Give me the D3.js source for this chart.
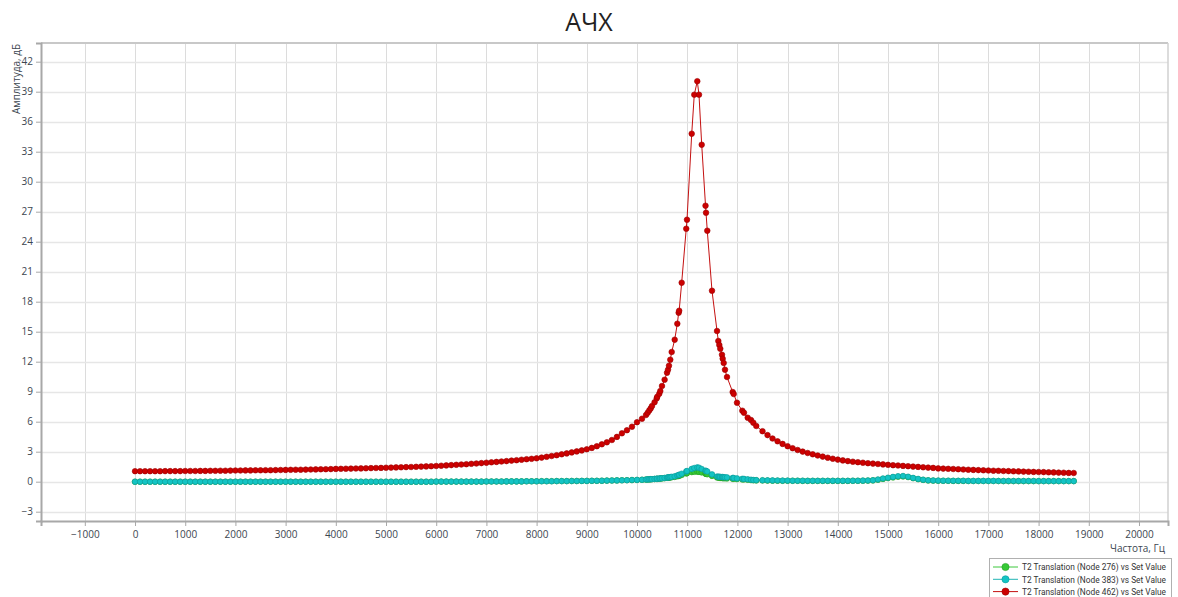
<!DOCTYPE html>
<html><head><meta charset="utf-8">
<script src="https://cdn.jsdelivr.net/npm/d3@7"></script>
<style>
html,body{margin:0;padding:0;background:#fff;}
svg text{font-family:"Open Sans","Noto Sans",sans-serif;}
</style></head>
<body>
<svg id="chart" width="1178" height="597"></svg>
<script>
// ---- data ----
const title = "АЧХ";
const xLabel = "Частота, Гц";
const yLabel = "Амплитуда, дБ";
const xTicks = [-1000,0,1000,2000,3000,4000,5000,6000,7000,8000,9000,10000,11000,12000,13000,14000,15000,16000,17000,18000,19000,20000];
const yTicks = [-3,0,3,6,9,12,15,18,21,24,27,30,33,36,39,42];
const seriesNames = ["T2 Translation (Node 276) vs Set Value","T2 Translation (Node 383) vs Set Value","T2 Translation (Node 462) vs Set Value"];

const freq = [
 0,100,200,300,400,500,600,700,800,900,
 1000,1100,1200,1300,1400,1500,1600,1700,1800,1900,
 2000,2100,2200,2300,2400,2500,2600,2700,2800,2900,
 3000,3100,3200,3300,3400,3500,3600,3700,3800,3900,
 4000,4100,4200,4300,4400,4500,4600,4700,4800,4900,
 5000,5100,5200,5300,5400,5500,5600,5700,5800,5900,
 6000,6100,6200,6300,6400,6500,6600,6700,6800,6900,
 7000,7100,7200,7300,7400,7500,7600,7700,7800,7900,
 8000,8100,8200,8300,8400,8500,8600,8700,8800,8900,
 9000,9100,9200,9300,9400,9500,9600,9700,9800,9900,
 10000,10100,10180,10213,10245,10273,10299,10350,10392,10404,
 10444,10464,10498,10550,10598,10618,10637,10663,10691,10751,
 10803,10830,10840,10890,10981,10996,11090,11141,11201,11235,
 11289,11365,11375,11400,11494,11594,11620,11640,11659,11693,
 11707,11727,11753,11793,11906,11926,11992,12098,12131,12205,
 12271,12317,12376,12500,12600,12700,12800,12900,
 13000,13100,13200,13300,13400,13500,13600,13700,13800,13900,
 14000,14100,14200,14300,14400,14500,14600,14700,14800,14900,
 15000,15100,15200,15300,15400,15500,15600,15700,15800,15900,
 16000,16100,16200,16300,16400,16500,16600,16700,16800,16900,
 17000,17100,17200,17300,17400,17500,17600,17700,17800,17900,
 18000,18100,18200,18300,18400,18500,18600,18700
];

const node276 = [
 0,0,0,0,0,0,0,0,0,0,
 0,0,0,0,0,0,0,0,0,0,
 0,0,0,0,0,0,0,0,0,0,
 0,0,0,0,0,0,0,0,0,0,
 0,0,0,0,0,0,0,0,0,0,
 0,0,0,0,0,0,0,0,0,0,
 0.01,0.01,0.01,0.01,0.01,0.01,0.01,0.01,0.01,0.01,
 0.02,0.02,0.02,0.02,0.03,0.03,0.03,0.03,0.04,0.04,
 0.04,0.05,0.05,0.05,0.06,0.06,0.06,0.07,0.07,0.08,
 0.08,0.09,0.09,0.10,0.11,0.12,0.13,0.14,0.15,0.16,
 0.17,0.19,0.21,0.22,0.23,0.24,0.25,0.27,0.28,0.28,
 0.30,0.31,0.33,0.35,0.38,0.39,0.40,0.42,0.44,0.48,
 0.54,0.58,0.59,0.67,0.82,0.85,0.96,0.99,1.00,0.98,
 0.92,0.80,0.78,0.74,0.58,0.43,0.41,0.39,0.38,0.37,
 0.36,0.35,0.34,0.33,0.29,0.29,0.26,0.23,0.22,0.19,
 0.16,0.14,0.13,0.12,0.11,0.10,0.10,0.09,
 0.09,0.09,0.09,0.08,0.08,0.08,0.08,0.08,0.08,0.08,
 0.08,0.08,0.08,0.09,0.09,0.10,0.11,0.13,0.19,0.28,
 0.36,0.43,0.50,0.52,0.46,0.35,0.25,0.18,0.13,0.11,
 0.10,0.09,0.09,0.08,0.08,0.08,0.07,0.07,0.07,0.07,
 0.07,0.07,0.07,0.06,0.06,0.06,0.06,0.06,0.06,0.06,
 0.06,0.06,0.06,0.06,0.06,0.06,0.06,0.06
];

const node383 = [
 0,0,0,0,0,0,0,0,0,0,
 0,0,0,0,0,0,0,0,0,0,
 0,0,0,0,0,0,0,0,0,0,
 0,0,0,0,0,0,0,0,0,0,
 0,0,0,0,0,0,0,0,0,0,
 0,0,0,0,0,0,0,0,0,0,
 0.01,0.01,0.01,0.01,0.01,0.01,0.01,0.01,0.01,0.01,
 0.02,0.02,0.02,0.02,0.03,0.03,0.03,0.03,0.04,0.04,
 0.04,0.05,0.05,0.05,0.06,0.06,0.06,0.07,0.07,0.08,
 0.08,0.09,0.09,0.10,0.11,0.12,0.13,0.14,0.15,0.17,
 0.18,0.20,0.22,0.23,0.24,0.25,0.26,0.28,0.30,0.30,
 0.32,0.33,0.35,0.38,0.41,0.43,0.44,0.46,0.49,0.54,
 0.62,0.67,0.69,0.80,1.03,1.07,1.28,1.37,1.43,1.40,
 1.27,1.10,1.08,1.02,0.73,0.52,0.50,0.49,0.48,0.47,
 0.46,0.45,0.44,0.43,0.38,0.37,0.33,0.29,0.28,0.24,
 0.20,0.17,0.16,0.15,0.14,0.13,0.12,0.11,
 0.11,0.10,0.10,0.10,0.09,0.09,0.09,0.09,0.09,0.09,
 0.09,0.09,0.09,0.10,0.10,0.11,0.12,0.15,0.22,0.32,
 0.40,0.48,0.55,0.57,0.50,0.38,0.28,0.20,0.14,0.12,
 0.11,0.10,0.10,0.09,0.09,0.09,0.08,0.08,0.08,0.08,
 0.08,0.08,0.07,0.07,0.07,0.07,0.07,0.07,0.07,0.07,
 0.06,0.06,0.06,0.06,0.06,0.06,0.06,0.06
];

const node462 = [
 1.05,1.05,1.05,1.05,1.05,1.05,1.06,1.06,1.06,1.06,
 1.07,1.07,1.07,1.08,1.08,1.09,1.09,1.10,1.10,1.11,
 1.12,1.12,1.13,1.13,1.14,1.14,1.15,1.15,1.16,1.17,
 1.18,1.19,1.20,1.20,1.21,1.22,1.23,1.24,1.25,1.26,
 1.28,1.29,1.30,1.31,1.32,1.33,1.34,1.36,1.37,1.38,
 1.40,1.41,1.43,1.44,1.46,1.47,1.49,1.51,1.53,1.55,
 1.57,1.60,1.63,1.66,1.69,1.72,1.75,1.79,1.82,1.86,
 1.90,1.94,1.98,2.02,2.06,2.11,2.15,2.20,2.25,2.29,
 2.34,2.41,2.49,2.57,2.65,2.74,2.83,2.93,3.03,3.13,
 3.24,3.38,3.55,3.74,3.94,4.17,4.48,4.84,5.15,5.50,
 5.95,6.30,6.67,6.90,7.13,7.33,7.57,7.95,8.33,8.50,
 8.80,9.07,9.57,10.2,10.9,11.2,11.6,12.2,12.97,14.2,
 15.8,16.9,17.1,19.9,25.3,26.2,34.8,38.7,40.05,38.7,
 33.7,27.6,26.9,25.1,19.1,15.07,14.07,13.67,13.3,12.7,
 12.3,11.87,11.2,10.47,8.97,8.77,7.9,7.1,6.9,6.4,
 6.17,5.9,5.57,5.05,4.66,4.32,4.04,3.78,
 3.55,3.35,3.17,3.01,2.87,2.74,2.62,2.51,2.40,2.30,
 2.21,2.13,2.06,2.00,1.95,1.90,1.85,1.81,1.77,1.73,
 1.69,1.65,1.62,1.58,1.55,1.51,1.48,1.44,1.41,1.38,
 1.33,1.31,1.29,1.27,1.25,1.22,1.20,1.18,1.16,1.14,
 1.12,1.10,1.09,1.07,1.06,1.04,1.03,1.01,1.00,0.98,
 0.97,0.96,0.94,0.93,0.91,0.90,0.88,0.87
];

const seriesValues = [node276, node383, node462];
const lineColors = ["#3cc83c","#22b4b4","#c41010"];
const fillColors = ["#36c936","#14c4c4","#cc0000"];
const edgeColors = ["#22a022","#0a9a9a","#9a0000"];

// ---- layout ----
const svg = d3.select("#chart");
const L = 41, R = 1168, T = 43, B = 521;
const x = d3.scaleLinear().domain([-1873, 20578]).range([L, R]);
const y = d3.scaleLinear().domain([-3.93, 43.87]).range([B, T]);

// grid
const g = svg.append("g");
g.selectAll("line.vg").data(xTicks).join("line")
  .attr("x1", d => Math.round(x(d)) + 0.5).attr("x2", d => Math.round(x(d)) + 0.5)
  .attr("y1", T).attr("y2", B).attr("stroke", "#dcdcdc").attr("stroke-width", 1);
g.selectAll("line.hg").data(yTicks).join("line")
  .attr("y1", d => Math.round(y(d)) + 0.5).attr("y2", d => Math.round(y(d)) + 0.5)
  .attr("x1", L).attr("x2", R).attr("stroke", "#e6e6e6").attr("stroke-width", 1.5);

// frame top / right
svg.append("line").attr("x1", L).attr("x2", R).attr("y1", T).attr("y2", T).attr("stroke", "#c8c8c8").attr("stroke-width", 2);
svg.append("line").attr("x1", R).attr("x2", R).attr("y1", T).attr("y2", B).attr("stroke", "#d0d0d0").attr("stroke-width", 1.5);

// axes
const xAxis = d3.axisBottom(x).tickValues(xTicks).tickSize(5).tickPadding(5).tickFormat(d3.format("d"));
const yAxis = d3.axisLeft(y).tickValues(yTicks).tickSize(5).tickPadding(3).tickFormat(d3.format("d"));
const gx = svg.append("g").attr("transform", `translate(0,${B})`).call(xAxis);
const gy = svg.append("g").attr("transform", `translate(${L},0)`).call(yAxis);
[gx, gy].forEach(a => {
  a.select(".domain").attr("stroke", "#a8a8a8").attr("stroke-width", 2);
  a.selectAll(".tick line").attr("stroke", "#a8a8a8");
  a.selectAll(".tick text").attr("fill", "#3c4650").style("font-size", "10px")
    .style("font-family", '"Open Sans","Noto Sans",sans-serif');
});

// series
const line = d3.line().x(d => x(d[0])).y(d => y(d[1]));
seriesValues.forEach((vals, i) => {
  const pts = freq.map((f, j) => [f, vals[j]]);
  const sg = svg.append("g");
  sg.append("path").datum(pts).attr("d", line).attr("fill", "none")
    .attr("stroke", lineColors[i]).attr("stroke-width", 1);
  sg.selectAll("circle").data(pts).join("circle")
    .attr("cx", d => x(d[0])).attr("cy", d => y(d[1])).attr("r", 2.8)
    .attr("fill", fillColors[i]).attr("stroke", edgeColors[i]).attr("stroke-width", 0.6);
});

// title and axis labels
svg.append("text").attr("x", 589).attr("y", 31).attr("text-anchor", "middle")
  .style("font-size", "25px").attr("fill", "#222").text(title);
svg.append("text").attr("transform", "translate(20,44) rotate(-90)").attr("text-anchor", "end")
  .style("font-size", "10px").attr("fill", "#3c4650").text(yLabel);
svg.append("text").attr("x", 1165).attr("y", 552).attr("text-anchor", "end")
  .style("font-size", "10px").attr("fill", "#3c4650").text(xLabel);

// legend
const lg = svg.append("g");
lg.append("rect").attr("x", 989.5).attr("y", 558.5).attr("width", 182).attr("height", 45)
  .attr("fill", "#fff").attr("stroke", "#b0b0b0");
seriesNames.forEach((n, i) => {
  const yy = 567 + i * 12.3;
  lg.append("line").attr("x1", 993).attr("x2", 1018).attr("y1", yy).attr("y2", yy)
    .attr("stroke", lineColors[i]).attr("stroke-width", 1);
  lg.append("circle").attr("cx", 1005.5).attr("cy", yy).attr("r", 3.6)
    .attr("fill", fillColors[i]).attr("stroke", edgeColors[i]).attr("stroke-width", 0.6);
  const t = lg.append("text").attr("x", 1022).attr("y", yy + 3.2)
    .style("font-size", "10px").style("font-family", '"Liberation Sans Narrow",Roboto,"Liberation Sans",sans-serif')
    .attr("fill", "#333").text(n);
  const w = t.node().getComputedTextLength();
  if (w > 144) t.style("font-size", (10 * 144 / w).toFixed(2) + "px");
});
</script>
</body></html>
